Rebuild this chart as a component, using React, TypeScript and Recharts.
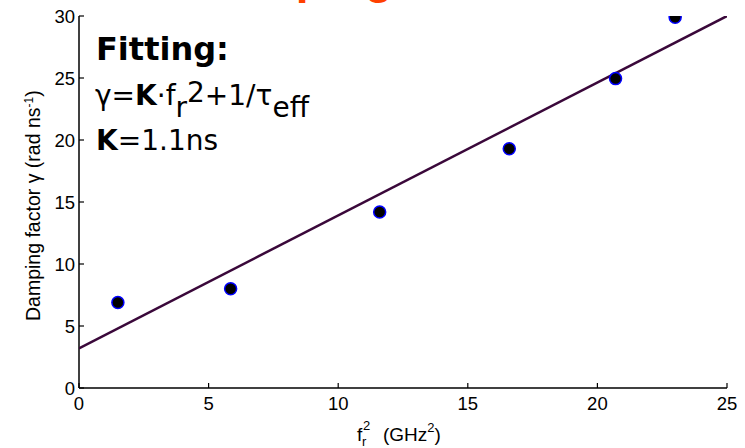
import { ScatterChart, Scatter, XAxis, YAxis } from "recharts";

// axis ticks
const xTicks = [0, 5, 10, 15, 20, 25];
const yTicks = [0, 5, 10, 15, 20, 25, 30];

// measured damping factor vs resonance frequency squared
const fr2 = [1.5, 5.85, 11.6, 16.6, 20.7, 23.0];
const gamma = [6.9, 8.0, 14.2, 19.3, 24.95, 29.9];

// linear fit end points
const fitX = [0, 25];
const fitY = [3.2, 30];

const measured = fr2.map((x, i) => ({ x, y: gamma[i] }));
const fit = fitX.map((x, i) => ({ x, y: fitY[i] }));

const FONT = "'Liberation Sans', Arial, Helvetica, sans-serif";
const NOTE_FONT = "'DejaVu Sans', Verdana, sans-serif";

const BottomTick = (p: any) => (
  <g>
    <line x1={p.x} y1={p.y} x2={p.x} y2={p.y - 5} stroke="#000" strokeWidth={1.2} />
    <text x={p.x} y={p.y + 22} textAnchor="middle" fontSize={18.5} fontFamily={FONT} fill="#000">
      {p.payload.value}
    </text>
  </g>
);

const LeftTick = (p: any) => (
  <g>
    <line x1={p.x} y1={p.y} x2={p.x + 5} y2={p.y} stroke="#000" strokeWidth={1.2} />
    <text x={p.x - 4} y={p.y + 6.5} textAnchor="end" fontSize={18.5} fontFamily={FONT} fill="#000">
      {p.payload.value}
    </text>
  </g>
);

const TopTick = (p: any) => (
  <line x1={p.x} y1={p.y} x2={p.x} y2={p.y + 5} stroke="#000" strokeWidth={1.2} />
);

const RightTick = (p: any) => (
  <line x1={p.x} y1={p.y} x2={p.x - 5} y2={p.y} stroke="#000" strokeWidth={1.2} />
);

const Dot = (p: any) => (
  <circle cx={p.cx} cy={p.cy} r={6} fill="#000" stroke="#0000ff" strokeWidth={1.5} />
);

const axisLine = { stroke: "#000", strokeWidth: 1.5 };

export default function App() {
  return (
    <div style={{ position: "absolute", left: 0, top: 0, background: "#fff" }}>
      <ScatterChart
        width={745}
        height={448}
        margin={{ top: 16, right: 18, bottom: 0, left: 0 }}
      >
        <XAxis
          type="number"
          dataKey="x"
          domain={[0, 25]}
          ticks={xTicks}
          height={60}
          tickSize={0}
          tickMargin={0}
          axisLine={axisLine}
          tickLine={false}
          tick={BottomTick}
          allowDataOverflow
        />
        <XAxis
          xAxisId="top"
          orientation="top"
          type="number"
          dataKey="x"
          domain={[0, 25]}
          ticks={xTicks}
          height={0}
          tickSize={0}
          tickMargin={0}
          axisLine={axisLine}
          tickLine={false}
          tick={TopTick}
        />
        <YAxis
          type="number"
          dataKey="y"
          domain={[0, 30]}
          ticks={yTicks}
          width={79}
          tickSize={0}
          tickMargin={0}
          axisLine={axisLine}
          tickLine={false}
          tick={LeftTick}
          allowDataOverflow
        />
        <YAxis
          yAxisId="right"
          orientation="right"
          type="number"
          dataKey="y"
          domain={[0, 30]}
          ticks={yTicks}
          width={0}
          tickSize={0}
          tickMargin={0}
          axisLine={axisLine}
          tickLine={false}
          tick={RightTick}
        />
        <Scatter
          data={fit}
          line={{ stroke: "#3a083a", strokeWidth: 2.5 }}
          shape={() => <g />}
          isAnimationActive={false}
        />
        <Scatter data={measured} shape={Dot} isAnimationActive={false} />

        {/* title, mostly cut off at the top edge */}
        <text x={196} y={-7} fontSize={46} fontWeight="bold" fontFamily={FONT} fill="#ff4000">
          Damping factor
        </text>

        {/* fitting note */}
        <text x={96} y={60} fontSize={32} fontWeight="bold" fontFamily={NOTE_FONT} fill="#000">
          Fitting:
        </text>
        <text x={95} y={105} fontSize={28} fontFamily={NOTE_FONT} fill="#000">
          <tspan>γ=</tspan>
          <tspan fontWeight="bold">K</tspan>
          <tspan>·f</tspan>
          <tspan dy={12}>r</tspan>
          <tspan dy={-15}>2</tspan>
          <tspan dy={3}>+1/τ</tspan>
          <tspan dy={12}>eff</tspan>
        </text>
        <text x={96} y={150} fontSize={28} fontFamily={NOTE_FONT} fill="#000">
          <tspan fontWeight="bold">K</tspan>
          <tspan>=1.1ns</tspan>
        </text>

        {/* axis titles */}
        <text
          x={40}
          y={321}
          transform="rotate(-90, 40, 321)"
          fontSize={19.5}
          fontFamily={FONT}
          fill="#000"
        >
          Damping factor γ (rad ns
          <tspan dy={-7} fontSize={12}>-1</tspan>
          <tspan dy={7}>)</tspan>
        </text>
        <text x={357} y={441} fontSize={19} fontFamily={FONT} fill="#000">f</text>
        <text x={363} y={430} fontSize={13} fontFamily={FONT} fill="#000">2</text>
        <text x={362} y={446} fontSize={13} fontFamily={FONT} fill="#000">r</text>
        <text x={383} y={441} fontSize={19} fontFamily={FONT} fill="#000">
          (GHz
          <tspan dy={-9} fontSize={13}>2</tspan>
          <tspan dy={9}>)</tspan>
        </text>
      </ScatterChart>
    </div>
  );
}
